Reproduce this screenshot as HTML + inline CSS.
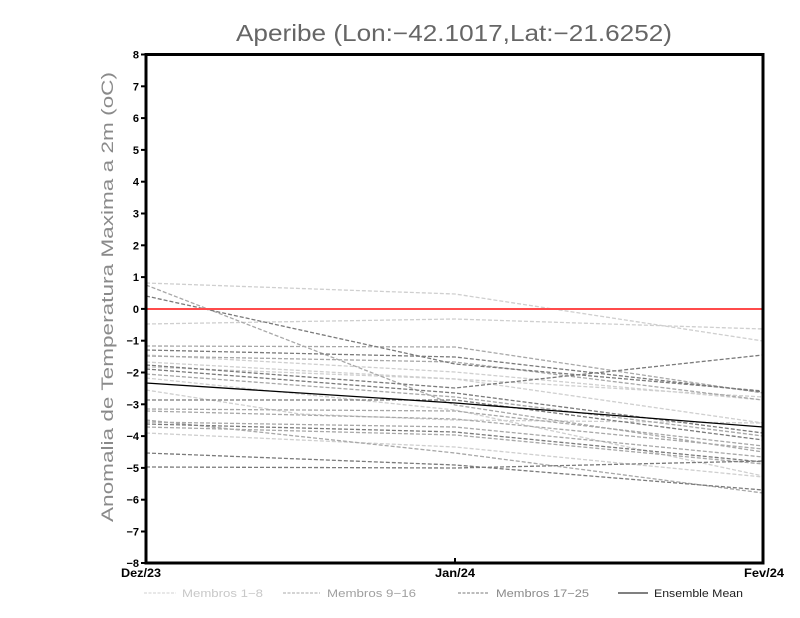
<!DOCTYPE html>
<html><head><meta charset="utf-8"><style>
html,body{margin:0;padding:0;background:#fff;}
svg{display:block;}
</style></head><body>
<svg width="800" height="618" viewBox="0 0 800 618" xmlns="http://www.w3.org/2000/svg">
<rect width="800" height="618" fill="#fff"/>
<text x="454" y="41" font-family="Liberation Sans, sans-serif" font-size="23" fill="#666" text-anchor="middle" textLength="436" lengthAdjust="spacingAndGlyphs">Aperibe (Lon:−42.1017,Lat:−21.6252)</text>
<text transform="translate(113,297) rotate(-90)" font-family="Liberation Sans, sans-serif" font-size="17" fill="#8a8a8a" text-anchor="middle" textLength="450" lengthAdjust="spacingAndGlyphs">Anomalia de Temperatura Maxima a 2m (oC)</text>

<g fill="none" stroke-width="1.3" stroke-dasharray="4 2">
<g stroke="#cfcfcf">
<polyline points="146,283 455,294 763,341"/>
<polyline points="146,324 455,319 763,329"/>
<polyline points="146,362 455,379 763,397"/>
<polyline points="146,367 455,379 763,423"/>
<polyline points="146,390 300,414 455,420 763,423"/>
<polyline points="146,433 455,447 763,477"/>
<polyline points="146,355 455,372 763,400"/>
<polyline points="146,378 455,410 763,476"/>
</g>
<g stroke="#a8a8a8">
<polyline points="146,285 455,405 763,452"/>
<polyline points="146,346 455,347 763,393"/>
<polyline points="146,356 455,362 763,400"/>
<polyline points="146,374 455,397 763,436"/>
<polyline points="146,409 455,411 763,446"/>
<polyline points="146,411 455,419 763,449"/>
<polyline points="146,422 455,427 763,457"/>
<polyline points="146,427 455,435 763,464"/>
<polyline points="146,420 455,453 763,493"/>
</g>
<g stroke="#7a7a7a">
<polyline points="146,296 455,364 763,391"/>
<polyline points="146,365 455,388 763,355"/>
<polyline points="146,369 455,393 763,433"/>
<polyline points="146,400 455,400 763,440"/>
<polyline points="146,424 455,432 763,462"/>
<polyline points="146,453 455,465 763,490"/>
<polyline points="146,467 455,468 763,461"/>
<polyline points="146,350 455,357 763,392"/>
</g>
</g>
<polyline points="146,383 455,403 763,427" fill="none" stroke="#000" stroke-width="1.3"/>
<line x1="146" y1="309" x2="763" y2="309" stroke="#ff4b4b" stroke-width="2"/>

<rect x="146" y="54.5" width="617" height="508.5" fill="none" stroke="#000" stroke-width="3"/>

<g stroke="#000" stroke-width="2">
<line x1="141" y1="54.5" x2="146" y2="54.5"/>
<line x1="141" y1="86.3" x2="146" y2="86.3"/>
<line x1="141" y1="118.1" x2="146" y2="118.1"/>
<line x1="141" y1="149.9" x2="146" y2="149.9"/>
<line x1="141" y1="181.7" x2="146" y2="181.7"/>
<line x1="141" y1="213.5" x2="146" y2="213.5"/>
<line x1="141" y1="245.3" x2="146" y2="245.3"/>
<line x1="141" y1="277.1" x2="146" y2="277.1"/>
<line x1="141" y1="308.9" x2="146" y2="308.9"/>
<line x1="141" y1="340.7" x2="146" y2="340.7"/>
<line x1="141" y1="372.5" x2="146" y2="372.5"/>
<line x1="141" y1="404.3" x2="146" y2="404.3"/>
<line x1="141" y1="436.1" x2="146" y2="436.1"/>
<line x1="141" y1="467.9" x2="146" y2="467.9"/>
<line x1="141" y1="499.7" x2="146" y2="499.7"/>
<line x1="141" y1="531.5" x2="146" y2="531.5"/>
<line x1="141" y1="563" x2="146" y2="563"/>
<line x1="455" y1="563" x2="455" y2="558"/>
</g>
<g font-family="Liberation Sans, sans-serif" font-size="11" font-weight="bold" fill="#000" text-anchor="end">
<text x="139" y="58.5">8</text>
<text x="139" y="90.3">7</text>
<text x="139" y="122.1">6</text>
<text x="139" y="153.9">5</text>
<text x="139" y="185.7">4</text>
<text x="139" y="217.5">3</text>
<text x="139" y="249.3">2</text>
<text x="139" y="281.1">1</text>
<text x="139" y="312.9">0</text>
<text x="139" y="344.7">−1</text>
<text x="139" y="376.5">−2</text>
<text x="139" y="408.3">−3</text>
<text x="139" y="440.1">−4</text>
<text x="139" y="471.9">−5</text>
<text x="139" y="503.7">−6</text>
<text x="139" y="535.5">−7</text>
<text x="139" y="567">−8</text>
</g>
<g font-family="Liberation Sans, sans-serif" font-size="12" font-weight="bold" fill="#000" text-anchor="middle">
<text x="141" y="577" textLength="40" lengthAdjust="spacingAndGlyphs">Dez/23</text>
<text x="455" y="577" textLength="40" lengthAdjust="spacingAndGlyphs">Jan/24</text>
<text x="764" y="577" textLength="40" lengthAdjust="spacingAndGlyphs">Fev/24</text>
</g>

<g font-family="Liberation Sans, sans-serif" font-size="11">
<line x1="144" y1="593" x2="176" y2="593" stroke="#d0d0d0" stroke-width="1" stroke-dasharray="3 1.5"/>
<text x="182" y="597" fill="#c8c8c8" textLength="81" lengthAdjust="spacingAndGlyphs">Membros 1−8</text>
<line x1="283" y1="593" x2="320" y2="593" stroke="#a8a8a8" stroke-width="1" stroke-dasharray="3 1.5"/>
<text x="327" y="597" fill="#a0a0a0" textLength="89" lengthAdjust="spacingAndGlyphs">Membros 9−16</text>
<line x1="458" y1="593" x2="488" y2="593" stroke="#7a7a7a" stroke-width="1" stroke-dasharray="3 1.5"/>
<text x="496" y="597" fill="#8a8a8a" textLength="93" lengthAdjust="spacingAndGlyphs">Membros 17−25</text>
<line x1="618" y1="593" x2="648" y2="593" stroke="#000" stroke-width="1"/>
<text x="654" y="597" fill="#222" textLength="89" lengthAdjust="spacingAndGlyphs">Ensemble Mean</text>
</g>
</svg>
</body></html>
